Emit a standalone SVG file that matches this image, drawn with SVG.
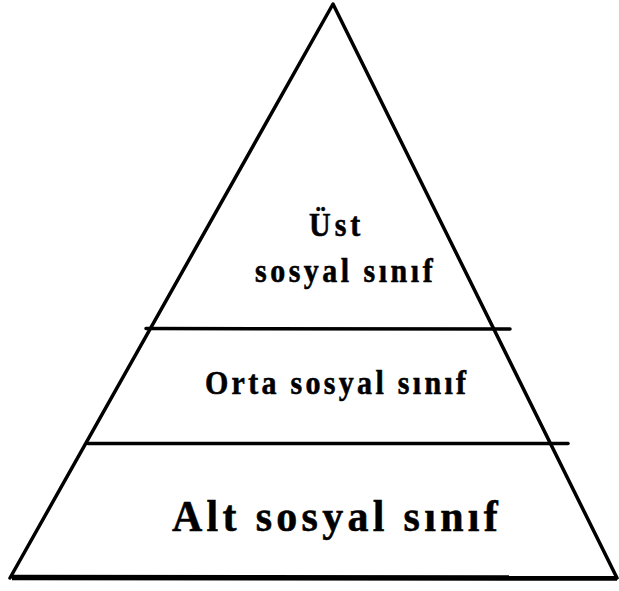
<svg xmlns="http://www.w3.org/2000/svg" width="619" height="591" viewBox="0 0 619 591">
<style>
.edge{stroke:#000;stroke-width:3.5;fill:none;stroke-linecap:round;stroke-linejoin:round}
.lbl{font-family:"Liberation Serif","Times New Roman",serif;font-weight:bold;fill:#000;stroke:#000;stroke-width:0.5}
</style>
<rect width="619" height="591" fill="#fff"/>
<g id="connectors">
<path class="edge" d="M10,578 L333,4 L617,578"/>
<line x1="12" y1="577.5" x2="617" y2="578" stroke="#000" stroke-width="5.5"/>
<line class="edge" x1="146" y1="328.5" x2="510" y2="329"/>
<line class="edge" x1="88" y1="443.5" x2="568" y2="443.5"/>
</g>
<g id="upper">
<text class="lbl" transform="translate(0,235.5) scale(1,1.1)" x="309" y="0" font-size="30" letter-spacing="4">Üst</text>
<text class="lbl" transform="translate(0,281.5) scale(1,1.1)" x="255" y="0" font-size="30" letter-spacing="3.5">sosyal sınıf</text>
</g>
<g id="middle">
<text class="lbl" transform="translate(0,394) scale(1,1.1)" x="205" y="0" font-size="30" letter-spacing="3.3">Orta sosyal sınıf</text>
</g>
<g id="lower">
<text class="lbl" transform="translate(0,531) scale(1,1.05)" x="172" y="0" font-size="42" letter-spacing="4.3">Alt sosyal sınıf</text>
</g>
</svg>
